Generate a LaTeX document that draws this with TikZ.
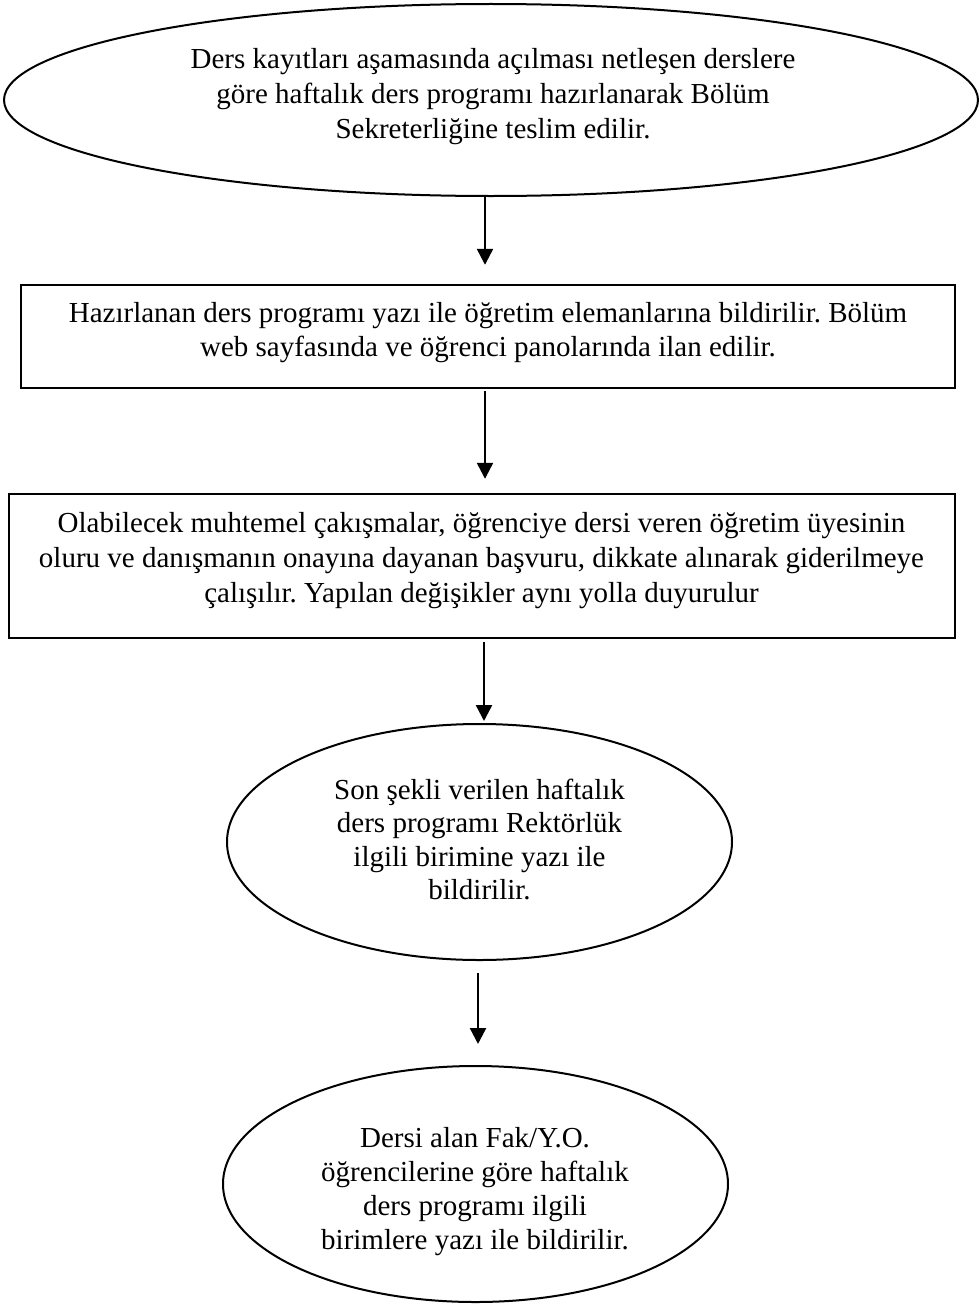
\documentclass[tikz,border=0pt]{standalone}
\usepackage{fontspec}
\setmainfont{Liberation Serif}
\usetikzlibrary{shapes.geometric,arrows.meta}
\frenchspacing
\begin{document}
\begin{tikzpicture}[x=1pt,y=-1pt,
  shapeell/.style={ellipse,draw,line width=2pt,inner sep=0pt},
  shaperect/.style={rectangle,draw,line width=2.4pt,inner sep=0pt},
  txt/.style={anchor=north,align=center,inner sep=0pt,font=\fontsize{29}{35}\selectfont\frenchspacing},
  txtr/.style={txt,font=\fontsize{29}{34}\selectfont\frenchspacing},
  txtb/.style={txt,font=\fontsize{29}{33.5}\selectfont\frenchspacing},
  arr/.style={line width=2.4pt,-{Triangle[length=16pt,width=16pt]}}]
\useasboundingbox (0,0) rectangle (978,1306);
% shapes
\node[shapeell,minimum width=974pt,minimum height=192pt] (e1) at (491,100) {};
\node[shaperect,minimum width=934pt,minimum height=103pt] (r1) at (488,336.5) {};
\node[shaperect,minimum width=946pt,minimum height=144pt] (r2) at (482,566) {};
\node[shapeell,minimum width=505pt,minimum height=236pt] (e2) at (479.5,842) {};
\node[shapeell,minimum width=505pt,minimum height=236pt] (e3) at (475.5,1184) {};
% texts
\node[txt] (t1) at (493,43) {\rule{0pt}{25pt}Ders kayıtları aşamasında açılması netleşen derslere\\göre haftalık ders programı hazırlanarak Bölüm\\Sekreterliğine teslim edilir.};
\node[txtr] (t2) at (488,297) {\rule{0pt}{25pt}Hazırlanan ders programı yazı ile öğretim elemanlarına bildirilir. Bölüm\\web sayfasında ve öğrenci panolarında ilan edilir.};
\node[txt] (t3) at (481.5,507) {\rule{0pt}{25pt}Olabilecek muhtemel çakışmalar, öğrenciye dersi veren öğretim üyesinin\\oluru ve danışmanın onayına dayanan başvuru, dikkate alınarak giderilmeye\\çalışılır. Yapılan değişikler aynı yolla duyurulur};
\node[txtb] (t4) at (479.5,774) {\rule{0pt}{25pt}Son şekli verilen haftalık\\ders programı Rektörlük\\ilgili birimine yazı ile\\bildirilir.};
\node[txtr] (t5) at (475,1122) {\rule{0pt}{25pt}Dersi alan Fak/Y.O.\\öğrencilerine göre haftalık\\ders programı ilgili\\birimlere yazı ile bildirilir.};
% arrows
\coordinate (c1) at (485,0);
\coordinate (c3) at (484,0);
\coordinate (c4) at (478,0);
\draw[arr,shorten >=19pt] (e1.south -| c1) -- (r1.north -| c1);
\draw[arr,shorten <=2pt,shorten >=14pt] (r1.south -| c1) -- (r2.north -| c1);
\draw[arr,shorten <=3pt,shorten >=2pt] (r2.south -| c3) -- (e2.north -| c3);
\draw[arr,shorten <=12pt,shorten >=21pt] (e2.south -| c4) -- (e3.north -| c4);
\end{tikzpicture}
\end{document}
